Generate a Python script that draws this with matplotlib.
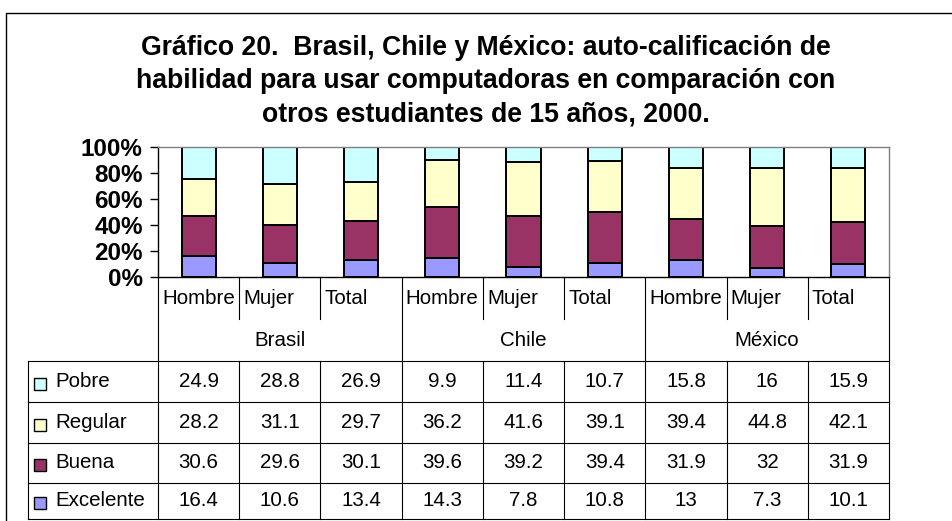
#!/usr/bin/env python3

import numpy as np
import matplotlib.pyplot as plt
from matplotlib.patches import Rectangle

plt.rcParams['font.family'] = ['Liberation Sans', 'DejaVu Sans']

# Data
countries = ['Brasil', 'Chile', 'México']
groups = ['Hombre', 'Mujer', 'Total']
series = ['Pobre', 'Regular', 'Buena', 'Excelente']
pobre = [24.9, 28.8, 26.9, 9.9, 11.4, 10.7, 15.8, 16, 15.9]
regular = [28.2, 31.1, 29.7, 36.2, 41.6, 39.1, 39.4, 44.8, 42.1]
buena = [30.6, 29.6, 30.1, 39.6, 39.2, 39.4, 31.9, 32, 31.9]
excelente = [16.4, 10.6, 13.4, 14.3, 7.8, 10.8, 13, 7.3, 10.1]
title_lines = ['Gráfico 20.  Brasil, Chile y México: auto-calificación de',
               'habilidad para usar computadoras en comparación con',
               'otros estudiantes de 15 años, 2000.']

colors = {'Pobre': '#CCFFFF', 'Regular': '#FFFFCC',
          'Buena': '#993366', 'Excelente': '#9999FF'}

# Layout in pixels (figure 952x521)
W, H = 952, 521
pl, pr, pt, pb = 158, 889, 147, 277   # plot area
leg_l = 28                            # left edge of legend column
y_cat = 319                           # bottom of category row
row_edges = [361, 402, 443, 483, 519] # data table rows
frame_x, frame_y = 6, 13              # outer chart frame
title_x = 486
title_y = [55, 88, 122]
fs = 14.8   # regular text size
lw_tab = 0.8


def draw_bars(ax, values):
    x = np.arange(len(values['Pobre']))
    total = sum(np.array(values[s], dtype=float) for s in series)
    bottom = np.zeros(len(x))
    for s in series[::-1]:
        v = np.array(values[s], dtype=float) / total
        ax.bar(x, v, width=0.42, bottom=bottom, color=colors[s],
               edgecolor='k', linewidth=1.4, zorder=2)
        bottom += v
    ax.set_xlim(-0.5, len(x) - 0.5)
    ax.set_ylim(0, 1)
    ax.set_xticks([])
    ticks = np.arange(0, 1.01, 0.2)
    ax.set_yticks(ticks)
    ax.set_yticklabels([f'{t:.0%}' for t in ticks], fontsize=17.5, fontweight='bold')
    ax.tick_params(axis='y', length=6, width=1, pad=5, colors='k')
    for side in ['top', 'right']:
        ax.spines[side].set_color('#808080')
    for side in ['left', 'bottom']:
        ax.spines[side].set_color('k')
    for sp in ax.spines.values():
        sp.set_linewidth(1)


def vline(ax, x, y0, y1):
    ax.plot([x, x], [y0, y1], color='k', lw=lw_tab, clip_on=False)


def hline(ax, y, x0, x1):
    ax.plot([x0, x1], [y, y], color='k', lw=lw_tab, clip_on=False)


def draw_table(tab, values):
    edges = np.linspace(pl, pr, 10)
    centers = (edges[:-1] + edges[1:]) / 2
    # Vertical lines
    for i, x in enumerate(edges):
        if i % 3 == 0:
            vline(tab, x, pb, row_edges[-1])
        else:
            vline(tab, x, pb, y_cat)
            vline(tab, x, row_edges[0], row_edges[-1])
    vline(tab, leg_l, row_edges[0], row_edges[-1])
    for y in row_edges:
        hline(tab, y, leg_l, pr)
    # Category and country labels
    for i, x in enumerate(edges[:-1]):
        tab.text(x + 4, (pb + y_cat) / 2, groups[i % 3], ha='left', va='center', fontsize=fs)
    for j, c in enumerate(countries):
        tab.text((edges[3*j] + edges[3*j + 3]) / 2, (y_cat + row_edges[0]) / 2, c,
                 ha='center', va='center', fontsize=fs)
    # Data rows with legend keys
    for r, s in enumerate(series):
        yc = (row_edges[r] + row_edges[r + 1]) / 2
        tab.add_patch(Rectangle((34, yc - 4), 12, 12, fc=colors[s], ec='k', lw=1))
        tab.text(55, yc, s, ha='left', va='center', fontsize=fs)
        for i, v in enumerate(values[s]):
            tab.text(centers[i], yc, f'{v:g}', ha='center', va='center', fontsize=fs)


def main():
    values = {'Pobre': pobre, 'Regular': regular, 'Buena': buena, 'Excelente': excelente}

    fig = plt.figure(figsize=(W / 100, H / 100), dpi=100)
    tab = fig.add_axes([0, 0, 1, 1], facecolor='none')
    tab.set_xlim(0, W)
    tab.set_ylim(H, 0)
    tab.axis('off')
    ax = fig.add_axes([pl / W, 1 - pb / H, (pr - pl) / W, (pb - pt) / H])

    # Outer frame
    tab.plot([frame_x, frame_x, W + 5], [H + 5, frame_y, frame_y], color='k', lw=1, clip_on=False)

    for line, y in zip(title_lines, title_y):
        tab.text(title_x, y, line, ha='center', va='baseline', fontsize=19.2, fontweight='bold')

    draw_bars(ax, values)
    draw_table(tab, values)

    fig.savefig('out.png', dpi=100)


if (__name__ == '__main__'):
    main()
